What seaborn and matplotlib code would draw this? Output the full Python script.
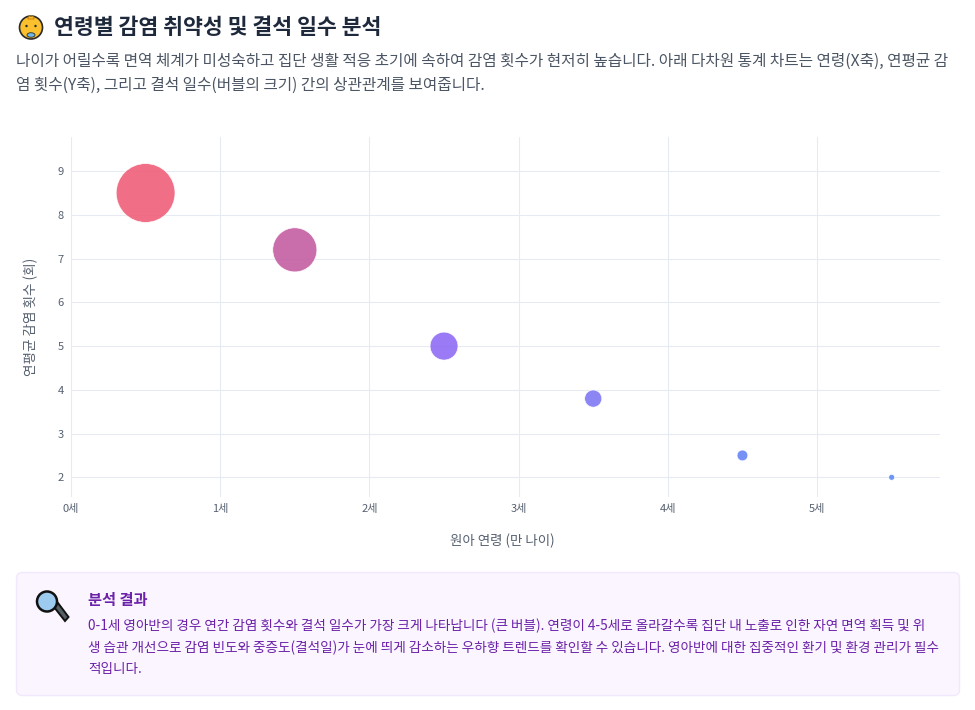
import matplotlib
matplotlib.use('Agg')
import matplotlib.pyplot as plt
from matplotlib.patches import Circle, Ellipse, FancyBboxPatch, Polygon, Wedge
import pandas as pd
import seaborn as sns

ages = [0.5, 1.5, 2.5, 3.5, 4.5, 5.5]
infections = [8.5, 7.2, 5.0, 3.8, 2.5, 2.0]
absent_days = [12, 9, 5.7, 3.5, 2.2, 1.2]
bubble_colors = ['#ef5f7a', '#c45ea2', '#8f6cf4', '#8079f3', '#6685f6', '#5f8bf5']
x_ticks = [0, 1, 2, 3, 4, 5]
x_tick_labels = ['0세', '1세', '2세', '3세', '4세', '5세']
y_ticks = [2, 3, 4, 5, 6, 7, 8, 9]

title = '연령별 감염 취약성 및 결석 일수 분석'
intro = ['나이가 어릴수록 면역 체계가 미성숙하고 집단 생활 적응 초기에 속하여 감염 횟수가 현저히 높습니다. 아래 다차원 통계 차트는 연령(X축), 연평균 감',
         '염 횟수(Y축), 그리고 결석 일수(버블의 크기) 간의 상관관계를 보여줍니다.']
card_title = '분석 결과'
card_body = ['0-1세 영아반의 경우 연간 감염 횟수와 결석 일수가 가장 크게 나타납니다 (큰 버블). 연령이 4-5세로 올라갈수록 집단 내 노출로 인한 자연 면역 획득 및 위',
             '생 습관 개선으로 감염 빈도와 중증도(결석일)가 눈에 띄게 감소하는 우하향 트렌드를 확인할 수 있습니다. 영아반에 대한 집중적인 환기 및 환경 관리가 필수',
             '적입니다.']

sns.set_theme(style='white')
plt.rcParams['font.family'] = ['Noto Sans CJK KR', 'DejaVu Sans']

W, H = 975, 710
fig = plt.figure(figsize=(W / 100, H / 100), dpi=100, facecolor='white')

# plot area in pixels: left 71, right 940, top 137, bottom 497
ax = fig.add_axes([71 / W, 1 - 497 / H, (940 - 71) / W, (497 - 137) / H])

df = pd.DataFrame({'age': ages, 'inf': infections, 'days': absent_days})
# bubble diameter about 4.9 px per day, s is in pt^2
size_map = {d: (d * 4.9 * 0.72) ** 2 for d in absent_days}
sns.scatterplot(data=df, x='age', y='inf', size='days', sizes=size_map, hue='age',
                palette=dict(zip(ages, bubble_colors)), alpha=0.9, edgecolor='white',
                linewidth=0.5, legend=False, ax=ax, zorder=3, clip_on=False)

ax.set_xlim(0, 5.824)
ax.set_ylim(1.55, 9.78)
ax.set_xticks(x_ticks)
ax.set_xticklabels(x_tick_labels)
ax.set_yticks(y_ticks)
ax.grid(True, color='#e6ebf3', linewidth=0.75)
ax.set_axisbelow(True)
sns.despine(ax=ax, left=True, bottom=True)
ax.tick_params(length=0, labelsize=8, labelcolor='#56606f', pad=5)
ax.set_xlabel('원아 연령 (만 나이)', fontsize=9.7, color='#56606f', labelpad=14, x=0.496)
ax.set_ylabel('연평균 감염 횟수 (회)', fontsize=9.8, color='#56606f', labelpad=14)

# overlay in pixel coordinates for header and card
ov = fig.add_axes([0, 0, 1, 1], zorder=5)
ov.set_xlim(0, W)
ov.set_ylim(H, 0)
ov.axis('off')
ov.patch.set_alpha(0)

# baby emoji
ov.add_patch(Circle((31, 27.5), 11.5, fc='#fbc02d', ec='#2b2b2b', lw=1.2))
ov.add_patch(Circle((26.5, 26), 1.2, fc='#2b2b2b', ec='none'))
ov.add_patch(Circle((35.5, 26), 1.2, fc='#2b2b2b', ec='none'))
ov.add_patch(Ellipse((31, 35), 8, 4.5, fc='#6fb8e8', ec='#2b2b2b', lw=0.6))
ov.add_patch(Wedge((31, 19), 3, 180, 360, fc='none', ec='#d08a10', lw=0.8))

ov.text(54, 27.5, title, fontsize=15.6, fontweight='bold', color='#1e293b', va='center')
for i, line in enumerate(intro):
    ov.text(16, 61 + i * 24, line, fontsize=11.3, color='#4b5563', va='center')

# card
ov.add_patch(FancyBboxPatch((16.5, 572.5), 943, 123, boxstyle='round,pad=0,rounding_size=6',
                            fc='#faf5ff', ec='#f1e8fd', lw=1))
# magnifier emoji
ov.add_patch(Polygon([(54, 607), (58, 603), (68.5, 617), (65, 621)], fc='#555f66', ec='#111111', lw=1.4))
ov.add_patch(Circle((47, 601.5), 10, fc='#9ccbef', ec='#111111', lw=1.8))

ov.text(88, 600.5, card_title, fontsize=11, fontweight='bold', color='#6b21a8', va='center')
for i, line in enumerate(card_body):
    ov.text(88, 626 + i * 21.5, line, fontsize=9.8, color='#6b21a8', va='center')

fig.savefig('out.png', dpi=100)
plt.close(fig)
